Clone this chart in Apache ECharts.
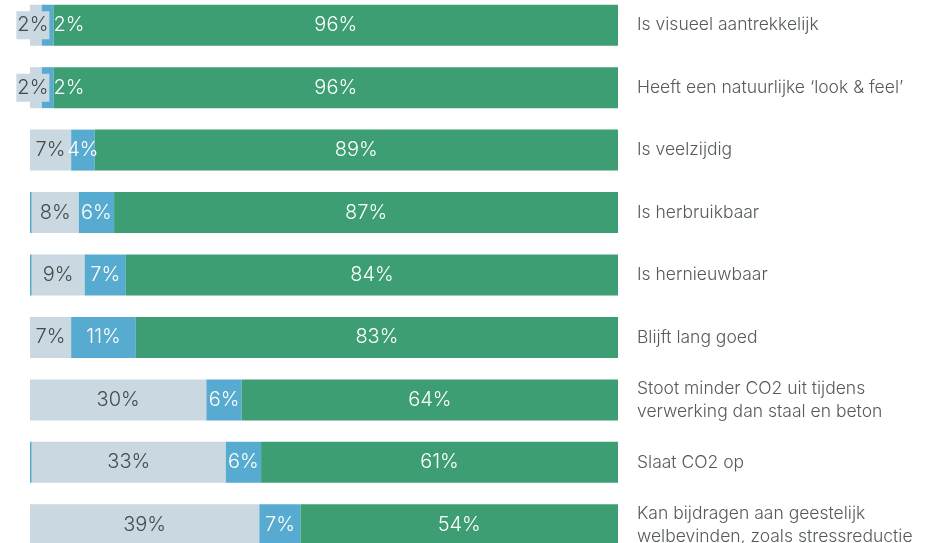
<!DOCTYPE html>
<html>
<head>
<meta charset="utf-8">
<script src="https://cdn.jsdelivr.net/npm/echarts@6/dist/echarts.min.js"></script>
<style>
  html, body { margin: 0; padding: 0; background: #fff; }
  #chart { width: 935px; height: 543px; }
</style>
</head>
<body>
<div id="chart"></div>
<script>
var categories = [
  'Is visueel aantrekkelijk',
  'Heeft een natuurlijke \u2018look & feel\u2019',
  'Is veelzijdig',
  'Is herbruikbaar',
  'Is hernieuwbaar',
  'Blijft lang goed',
  'Stoot minder CO2 uit tijdens\nverwerking dan staal en beton',
  'Slaat CO2 op',
  'Kan bijdragen aan geestelijk\nwelbevinden, zoals stressreductie'
];
var restValues = [0, 0, 0, 0.3, 0.3, 0, 0, 0.3, 0];
var oneensValues = [2, 2, 7, 8, 9, 7, 30, 33, 39];
var neutraalValues = [2, 2, 4, 6, 7, 11, 6, 6, 7];
var eensValues = [96, 96, 89, 87, 84, 83, 64, 61, 54];

var font = 'Inter';

function labelled(values, small) {
  return values.map(function (v, i) {
    return small(v, i) ? { value: v, label: small(v, i) } : v;
  });
}

var chartDom = document.getElementById('chart');
var myChart = echarts.init(chartDom);
var option;

option = {
  animation: false,
  grid: { left: 30, width: 588, top: -6, height: 562, outerBoundsMode: 'none', containLabel: false },
  xAxis: { type: 'value', min: 0, max: 100, show: false },
  yAxis: {
    type: 'category',
    data: categories,
    inverse: true,
    position: 'right',
    axisLine: { show: false },
    axisTick: { show: false },
    axisLabel: {
      margin: 19,
      color: '#555a5a',
      fontFamily: font,
      fontWeight: 300,
      fontSize: 17.5,
      lineHeight: 23,
      align: 'left'
    }
  },
  series: [
    {
      name: 'rest',
      type: 'bar',
      stack: 'a',
      barWidth: 41,
      itemStyle: { color: '#57abd0' },
      data: restValues
    },
    {
      name: 'oneens',
      type: 'bar',
      stack: 'a',
      itemStyle: { color: '#c9d8e1' },
      label: {
        show: true,
        position: 'inside',
        color: '#454a48',
        fontFamily: font,
        fontWeight: 300,
        fontSize: 20,
        formatter: '{c}%'
      },
      data: labelled(oneensValues, function (v, i) {
        return v < 3 ? { offset: [-3, 0], backgroundColor: '#c9d8e1', padding: [4, 1] } : null;
      })
    },
    {
      name: 'neutraal',
      type: 'bar',
      stack: 'a',
      itemStyle: { color: '#57abd0' },
      label: {
        show: true,
        position: 'inside',
        color: '#ffffff',
        fontFamily: font,
        fontWeight: 300,
        fontSize: 20,
        formatter: '{c}%'
      },
      data: labelled(neutraalValues, function (v, i) {
        return v < 3 ? { position: 'right', distance: 0 } : null;
      })
    },
    {
      name: 'eens',
      type: 'bar',
      stack: 'a',
      itemStyle: { color: '#3d9e73' },
      label: {
        show: true,
        position: 'inside',
        color: '#ffffff',
        fontFamily: font,
        fontWeight: 300,
        fontSize: 20,
        formatter: '{c}%'
      },
      data: eensValues
    }
  ]
};

option && myChart.setOption(option);
</script>
</body>
</html>
